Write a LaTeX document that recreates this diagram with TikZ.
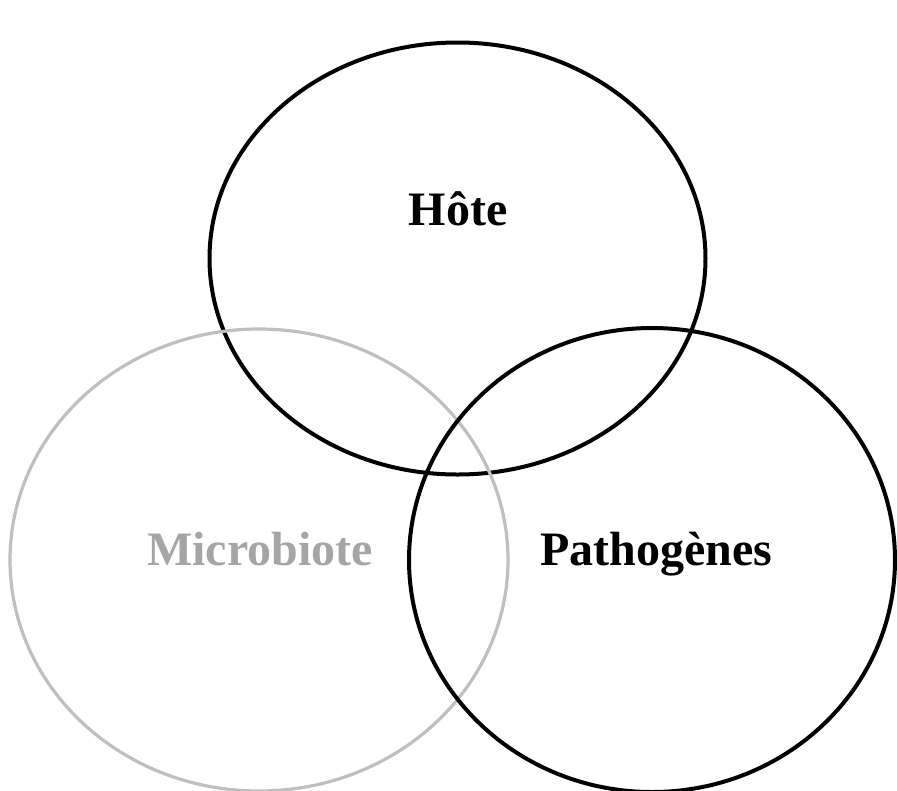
\documentclass[tikz,border=0pt]{standalone}
\usepackage{fontspec}
\setmainfont{Liberation Serif}
\usetikzlibrary{shapes.geometric}
\definecolor{lightgrey}{HTML}{BFBFBF}
\definecolor{midgrey}{HTML}{A5A5A5}

\begin{document}
\begin{tikzpicture}[x=0.75pt, y=-0.75pt,
    set/.style={ellipse, draw, line width=3pt, inner sep=0pt},
    setlabel/.style={anchor=base, inner sep=0pt, font=\fontsize{36}{43}\selectfont\bfseries}]
    \useasboundingbox (0,0) rectangle (897,790);
    \node [set, minimum width=372pt, minimum height=324pt] (hote) at (457.5,258.5) {};
    \node [set, draw=lightgrey, line width=2.4pt, minimum width=373.5pt, minimum height=346.5pt] (microbiote) at (259,560) {};
    \node [set, minimum width=364.5pt, minimum height=348pt] (pathogenes) at (652,560) {};
    \node [setlabel] (hotelabel) at (458,225) {Hôte};
    \node [setlabel, text=midgrey] (microbiotelabel) at (260,565) {Microbiote};
    \node [setlabel] (pathogeneslabel) at (656,565) {Pathogènes};
\end{tikzpicture}
\end{document}
